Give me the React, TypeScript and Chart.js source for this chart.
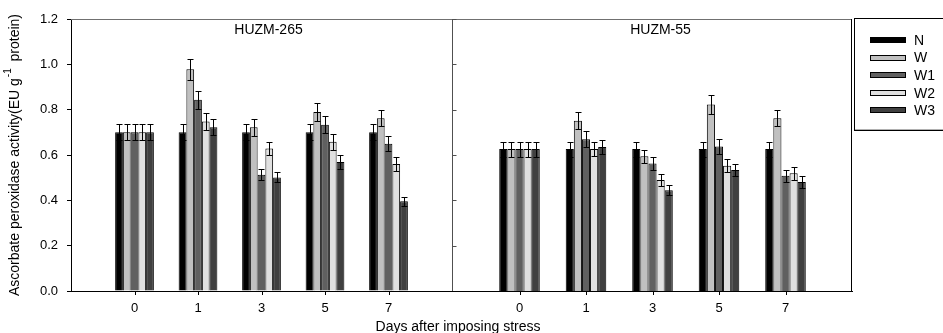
import React, { useEffect, useRef } from 'react';
import { Chart, registerables } from 'chart.js';

Chart.register(...registerables);

// ---------- data ----------
const categories = ['0', '1', '3', '5', '7'];
const seriesNames = ['N', 'W', 'W1', 'W2', 'W3'];
const seriesColors = ['#000000', '#c0c0c0', '#606060', '#e0e0e0', '#404040'];
const panelTitles = ['HUZM-265', 'HUZM-55'];
const xTitle = 'Days after imposing stress';
const yTitleMain = 'Ascorbate peroxidase activity(EU g';
const yTitleSup = '-1';
const yTitleEnd = '  protein)';
const yMin = 0;
const yMax = 1.2;
const yStep = 0.2;

// HUZM-265 (means)
const h265N = [0.70, 0.70, 0.70, 0.70, 0.70];
const h265W = [0.70, 0.978, 0.722, 0.79, 0.762];
const h265W1 = [0.70, 0.844, 0.513, 0.734, 0.65];
const h265W2 = [0.70, 0.748, 0.629, 0.659, 0.56];
const h265W3 = [0.70, 0.722, 0.501, 0.569, 0.396];
// HUZM-265 (error)
const h265NErr = [0.035, 0.035, 0.035, 0.035, 0.035];
const h265WErr = [0.035, 0.047, 0.037, 0.04, 0.036];
const h265W1Err = [0.035, 0.04, 0.025, 0.037, 0.034];
const h265W2Err = [0.035, 0.038, 0.03, 0.035, 0.03];
const h265W3Err = [0.035, 0.035, 0.022, 0.03, 0.02];

// HUZM-55 (means)
const h55N = [0.626, 0.626, 0.626, 0.626, 0.626];
const h55W = [0.626, 0.751, 0.594, 0.823, 0.762];
const h55W1 = [0.626, 0.669, 0.563, 0.637, 0.509];
const h55W2 = [0.626, 0.626, 0.49, 0.553, 0.519];
const h55W3 = [0.626, 0.635, 0.444, 0.534, 0.481];
// HUZM-55 (error)
const h55NErr = [0.033, 0.033, 0.033, 0.033, 0.033];
const h55WErr = [0.033, 0.037, 0.03, 0.042, 0.036];
const h55W1Err = [0.033, 0.035, 0.03, 0.032, 0.026];
const h55W2Err = [0.033, 0.03, 0.026, 0.028, 0.028];
const h55W3Err = [0.033, 0.03, 0.022, 0.026, 0.025];

const FONT = '"Liberation Sans", Arial, Helvetica, sans-serif';

const pad = (arr: number[]) => [null, ...arr, null];
const labels = [' ', ...categories, ' '];

const leftValues = [h265N, h265W, h265W1, h265W2, h265W3];
const leftErrs = [h265NErr, h265WErr, h265W1Err, h265W2Err, h265W3Err];
const rightValues = [h55N, h55W, h55W1, h55W2, h55W3];
const rightErrs = [h55NErr, h55WErr, h55W1Err, h55W2Err, h55W3Err];

function makeDatasets(values: number[][], errs: number[][]) {
  return values.map((vals, i) => ({
    label: seriesNames[i],
    data: pad(vals),
    errs: pad(errs[i]),
    backgroundColor: seriesColors[i],
    borderColor: '#000000',
    borderWidth: 1,
    categoryPercentage: 0.61,
    barPercentage: 1.0,
  }));
}

const errorBarsPlugin = {
  id: 'errorBars',
  afterDatasetsDraw(chart: any) {
    const ctx = chart.ctx;
    const yScale = chart.scales.y;
    ctx.save();
    ctx.strokeStyle = '#000000';
    ctx.lineWidth = 1;
    chart.data.datasets.forEach((ds: any, di: number) => {
      const meta = chart.getDatasetMeta(di);
      meta.data.forEach((el: any, i: number) => {
        const v = ds.data[i];
        const e = ds.errs[i];
        if (v == null || e == null) return;
        const x = Math.round(el.x) + 0.5;
        const yt = Math.round(yScale.getPixelForValue(v + e)) + 0.5;
        const yb = Math.round(yScale.getPixelForValue(v - e)) + 0.5;
        const cap = 3;
        ctx.beginPath();
        ctx.moveTo(x, yt);
        ctx.lineTo(x, yb);
        ctx.moveTo(x - cap, yt);
        ctx.lineTo(x + cap, yt);
        ctx.moveTo(x - cap, yb);
        ctx.lineTo(x + cap, yb);
        ctx.stroke();
      });
    });
    ctx.restore();
  },
};

function drawFrameCommon(chart: any) {
  const ctx = chart.ctx;
  const area = chart.chartArea;
  const xScale = chart.scales.x;
  // top frame line
  ctx.strokeStyle = '#707070';
  ctx.lineWidth = 1;
  ctx.beginPath();
  ctx.moveTo(area.left, Math.round(area.top) + 0.5);
  ctx.lineTo(area.right, Math.round(area.top) + 0.5);
  ctx.stroke();
  // category tick marks below the axis (labelled categories only)
  ctx.strokeStyle = '#000000';
  ctx.beginPath();
  for (let i = 1; i < labels.length - 1; i++) {
    const px = Math.round(xScale.getPixelForTick(i)) + 0.5;
    ctx.moveTo(px, area.bottom);
    ctx.lineTo(px, area.bottom + 4);
  }
  ctx.stroke();
}

const leftDecor = {
  id: 'leftDecor',
  afterDraw(chart: any) {
    const ctx = chart.ctx;
    const area = chart.chartArea;
    ctx.save();
    drawFrameCommon(chart);

    ctx.fillStyle = '#000000';
    ctx.font = '14px ' + FONT;
    ctx.textAlign = 'center';
    ctx.textBaseline = 'middle';
    ctx.fillText(panelTitles[0], (area.left + area.right) / 2 + 7, area.top + 11);

    // x title
    ctx.font = '14px ' + FONT;
    ctx.textBaseline = 'alphabetic';
    ctx.fillText(xTitle, 458, 331);

    // y title (rotated, with superscript)
    ctx.translate(15, (area.top + area.bottom) / 2);
    ctx.rotate(-Math.PI / 2);
    ctx.textAlign = 'left';
    ctx.textBaseline = 'middle';
    const big = '14px ' + FONT;
    const small = '10px ' + FONT;
    ctx.font = big;
    const w1 = ctx.measureText(yTitleMain).width;
    const w3 = ctx.measureText(yTitleEnd).width;
    ctx.font = small;
    const w2 = ctx.measureText(yTitleSup).width;
    let sx = -(w1 + w2 + w3) / 2;
    ctx.font = big;
    ctx.fillText(yTitleMain, sx, 0);
    sx += w1;
    ctx.font = small;
    ctx.fillText(yTitleSup, sx + 1, -7);
    sx += w2;
    ctx.font = big;
    ctx.fillText(yTitleEnd, sx, 0);
    ctx.restore();
  },
};

const rightDecor = {
  id: 'rightDecor',
  afterDraw(chart: any) {
    const ctx = chart.ctx;
    const area = chart.chartArea;
    const yScale = chart.scales.y;
    ctx.save();
    drawFrameCommon(chart);

    // divider between panels with inward ticks
    const dx = Math.round(area.left) - 0.5;
    ctx.strokeStyle = '#505050';
    ctx.beginPath();
    ctx.moveTo(dx, area.top);
    ctx.lineTo(dx, area.bottom);
    yScale.ticks.forEach((t: any) => {
      if (t.value <= yMin) return;
      const py = Math.round(yScale.getPixelForValue(t.value)) + 0.5;
      ctx.moveTo(dx, py);
      ctx.lineTo(dx + 4, py);
    });
    ctx.stroke();

    // right frame line
    const rx = Math.round(area.right) - 0.5;
    ctx.strokeStyle = '#000000';
    ctx.beginPath();
    ctx.moveTo(rx, area.top);
    ctx.lineTo(rx, area.bottom);
    ctx.stroke();

    // panel title
    ctx.fillStyle = '#000000';
    ctx.font = '14px ' + FONT;
    ctx.textAlign = 'center';
    ctx.textBaseline = 'middle';
    ctx.fillText(panelTitles[1], (area.left + area.right) / 2 + 8, area.top + 11);

    // legend box
    ctx.strokeStyle = '#000000';
    ctx.lineWidth = 1;
    ctx.strokeRect(854.5, 18.5, 140, 112);
    ctx.strokeStyle = '#b0b0b0';
    ctx.beginPath();
    ctx.moveTo(855, 129.5);
    ctx.lineTo(943, 129.5);
    ctx.stroke();
    ctx.font = '14px ' + FONT;
    ctx.textAlign = 'left';
    ctx.textBaseline = 'middle';
    seriesNames.forEach((name, i) => {
      const cy = 40 + i * 17.6;
      ctx.fillStyle = seriesColors[i];
      ctx.fillRect(870, Math.round(cy - 3), 36, 6);
      ctx.strokeStyle = '#000000';
      ctx.strokeRect(870.5, Math.round(cy - 3) + 0.5, 35, 5);
      ctx.fillStyle = '#000000';
      ctx.fillText(name, 914, cy + 1);
    });
    ctx.restore();
  },
};

function xScaleOptions() {
  return {
    type: 'category',
    position: 'bottom',
    offset: false,
    grid: { display: false, offset: false, drawTicks: false, tickLength: 0 },
    border: { display: true, color: '#000000', width: 1 },
    ticks: {
      color: '#000000',
      font: { size: 13, family: FONT },
      padding: 10,
      maxRotation: 0,
      autoSkip: false,
    },
    afterFit: (s: any) => {
      s.height = 42;
    },
  };
}

function yScaleOptions(visible: boolean) {
  return {
    type: 'linear',
    position: 'left',
    min: yMin,
    max: yMax,
    grid: {
      display: visible,
      drawOnChartArea: false,
      drawTicks: true,
      tickLength: 4,
      color: '#000000',
    },
    border: { display: visible, color: '#000000', width: 1 },
    ticks: {
      display: visible,
      stepSize: yStep,
      color: '#000000',
      font: { size: 13, family: FONT },
      padding: 9,
      callback: (v: any) => Number(v).toFixed(1),
    },
    afterFit: (s: any) => {
      s.width = visible ? 71 : 0;
    },
  };
}

function makeChart(canvas: HTMLCanvasElement, values: number[][], errs: number[][], left: boolean) {
  return new Chart(canvas, {
    type: 'bar',
    data: { labels, datasets: makeDatasets(values, errs) as any },
    options: {
      responsive: false,
      animation: false,
      events: [],
      layout: {
        padding: left
          ? { left: 0, top: 19, right: 491, bottom: 0 }
          : { left: 453, top: 19, right: 91, bottom: 0 },
      },
      plugins: {
        legend: { display: false },
        tooltip: { enabled: false },
        title: { display: false },
      },
      scales: { x: xScaleOptions(), y: yScaleOptions(left) } as any,
    },
    plugins: [errorBarsPlugin, left ? leftDecor : rightDecor],
  });
}

const layerStyle: React.CSSProperties = { position: 'absolute', left: 0, top: 0 };

export default function App() {
  const leftRef = useRef<HTMLCanvasElement | null>(null);
  const rightRef = useRef<HTMLCanvasElement | null>(null);

  useEffect(() => {
    if (!leftRef.current || !rightRef.current) return;
    const a = makeChart(leftRef.current, leftValues, leftErrs, true);
    const b = makeChart(rightRef.current, rightValues, rightErrs, false);
    return () => {
      a.destroy();
      b.destroy();
    };
  }, []);

  return (
    <div style={{ position: 'absolute', left: 0, top: 0, width: 943, height: 333, background: '#ffffff' }}>
      <canvas ref={leftRef} width={943} height={333} style={layerStyle} />
      <canvas ref={rightRef} width={943} height={333} style={layerStyle} />
    </div>
  );
}
